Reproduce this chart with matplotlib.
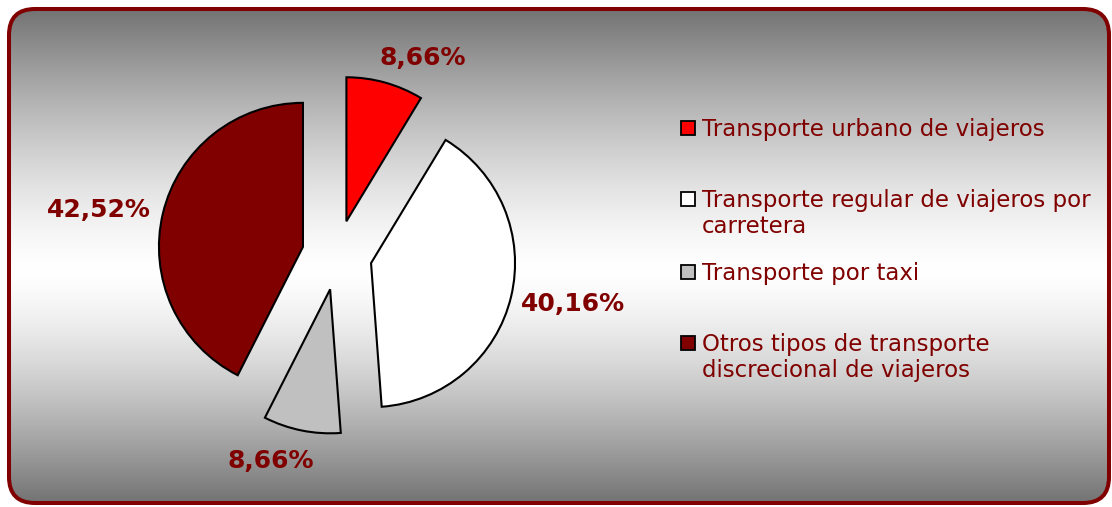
import matplotlib
matplotlib.use("Agg")
import matplotlib.pyplot as plt
import numpy as np
from matplotlib.patches import FancyBboxPatch, Rectangle

# ---- data ----
categories = [
    "Transporte urbano de viajeros",
    "Transporte regular de viajeros por\ncarretera",
    "Transporte por taxi",
    "Otros tipos de transporte\ndiscrecional de viajeros",
]
values = [8.66, 40.16, 8.66, 42.52]
colors = ["#FF0000", "#FFFFFF", "#C0C0C0", "#800000"]

# ---- layout (pixel units, y measured from top) ----
W, H = 1112, 507
PIE_CENTER = (337, 255)
PIE_RADIUS = 144
EXPLODE = 35
LABEL_POS = [(423, 58), (573, 304), (271, 461), (99, 210)]
LEG_X_BOX, LEG_X_TEXT = 681, 702
LEG_BASELINES = [136, 206.7, 280, 350.7]
LINE_STEP = 26
TEXT_COLOR = "#800000"

fig = plt.figure(figsize=(W / 100, H / 100), dpi=100)
ax = fig.add_axes([0, 0, 1, 1])

def Y(y):
    return H - y

# background frame with vertical gradient
frame = FancyBboxPatch((9, Y(503)), 1100, 494,
                       boxstyle="round,pad=0,rounding_size=26",
                       facecolor="none", edgecolor="#800000", linewidth=2.9, zorder=3)
n = 512
t = np.linspace(0, 1, n)
peak = 0.53
d = np.where(t < peak, (peak - t) / peak, (t - peak) / (1 - peak))
g = 0.45 + 0.55 * (1 - d ** 1.4)
grad = np.repeat(g[:, None], 2, axis=1)
img = ax.imshow(np.dstack([grad, grad, grad]), extent=(9, 1109, Y(503), Y(9)),
                origin="upper", aspect="auto", zorder=0, interpolation="bilinear")
clip = FancyBboxPatch((9, Y(503)), 1100, 494,
                      boxstyle="round,pad=0,rounding_size=26",
                      facecolor="none", edgecolor="none", transform=ax.transData)
ax.add_patch(clip)
img.set_clip_path(clip)
ax.add_patch(frame)

wedges, _ = ax.pie(values, colors=colors, startangle=90, counterclock=False,
                   radius=PIE_RADIUS, center=(PIE_CENTER[0], Y(PIE_CENTER[1])),
                   explode=[EXPLODE] * len(values),
                   wedgeprops=dict(edgecolor="black", linewidth=1.5))
for w in wedges:
    w.set_zorder(2)

for v, (lx, ly) in zip(values, LABEL_POS):
    ax.text(lx, Y(ly), f"{v:.2f}".replace(".", ",") + "%", ha="center", va="center",
            fontsize=18, fontweight="bold", color=TEXT_COLOR, family="DejaVu Sans", zorder=4)

for cat, col, base in zip(categories, colors, LEG_BASELINES):
    ax.add_patch(Rectangle((LEG_X_BOX, Y(base - 1)), 14, 14, facecolor=col,
                           edgecolor="black", linewidth=1.3, zorder=4))
    for i, line in enumerate(cat.split("\n")):
        ax.text(LEG_X_TEXT, Y(base + i * LINE_STEP), line, ha="left", va="baseline",
                fontsize=16.5, color=TEXT_COLOR, family="DejaVu Sans", zorder=4)

ax.set_xlim(0, W)
ax.set_ylim(0, H)
ax.set_aspect("auto")
ax.set_axis_off()
fig.savefig("out.png", dpi=100, facecolor="white")
